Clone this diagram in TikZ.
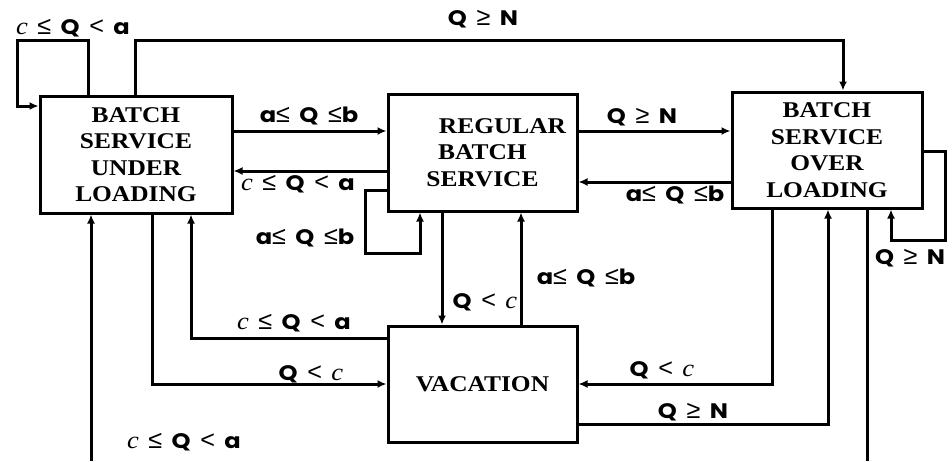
\documentclass[tikz,border=0pt]{standalone}
\usepackage{fontspec}
\usetikzlibrary{arrows.meta}
\newfontfamily\boxfont{Liberation Serif}[FakeStretch=1.13]
\newfontfamily\labfont{Poppins}[FakeStretch=1.15]
\newfontfamily\symfont{Liberation Sans}[Scale=1.2]
\newfontfamily\itcfont{Liberation Serif}[Scale=1.15,FakeStretch=1.1]
\newcommand\myc{{\itcfont\itshape\mdseries c}}
\newcommand\myle{{\symfont\mdseries ≤}}
\newcommand\myge{{\symfont\mdseries ≥}}
\newcommand\mylt{{\symfont\mdseries <}}
\newcommand\gp{\hspace{9.5pt}}
\newcommand\CQA{\myc\gp\myle\gp Q\gp\mylt\gp a}
\newcommand\AQB{a\myle\gp Q\gp\myle b}
\newcommand\QGN{Q\gp\myge\gp N}
\newcommand\QLC{Q\gp\mylt\gp\myc}
\tikzset{
  statebox/.style={draw,line width=3pt,rectangle,inner sep=0pt,align=center,
    font=\boxfont\bfseries\fontsize{22.5}{26.5}\selectfont},
  arr/.style={line width=3pt,-{Latex[length=9pt,width=8pt]}},
  plain/.style={line width=3pt},
  lab/.style={inner sep=0pt,font=\labfont\bfseries\fontsize{21}{22}\selectfont}
}
\begin{document}
\begin{tikzpicture}[x=1pt,y=-1pt]
\useasboundingbox (0,0) rectangle (952,461);
% states
\node[statebox,minimum width=192pt,minimum height=117pt] (bsul) at (136,154.5)
  {BATCH\\SERVICE\\UNDER\\LOADING};
\node[statebox,minimum width=189pt,minimum height=117pt] (rbs) at (482.5,152.5)
  {\hspace*{40pt}REGULAR\\BATCH\\SERVICE};
\node[statebox,minimum width=190pt,minimum height=116pt] (bsol) at (827,150)
  {BATCH\\SERVICE\\OVER\\LOADING};
\node[statebox,minimum width=189pt,minimum height=116pt] (vac) at (482.5,384)
  {VACATION};
% bend points
\coordinate (p1) at (88,40);
\coordinate (p2) at (17,40);
\coordinate (p3) at (17,106);
\coordinate (c1) at (135,40);
\coordinate (c2) at (843,40);
\coordinate (h1) at (0,131);
\coordinate (h2) at (0,171);
\coordinate (h3) at (0,131);
\coordinate (h4) at (0,182);
\coordinate (r1) at (365,190);
\coordinate (r2) at (365,253);
\coordinate (r3) at (420,253);
\coordinate (s1) at (945,151);
\coordinate (s2) at (945,240);
\coordinate (s3) at (891,240);
\coordinate (v1) at (442,0);
\coordinate (v2) at (521,0);
\coordinate (t1) at (191,338);
\coordinate (t2) at (152,384);
\coordinate (u1) at (772,384);
\coordinate (u2) at (828,424);
\coordinate (w1) at (867,461);
\coordinate (w2) at (91,461);
% connectors
\draw[arr] (bsul.north -| p1) -- (p1) -- (p2) |- (bsul.west |- p3);
\draw[arr] (bsul.north -| c1) -- (c1) -- (c2) -- (bsol.north -| c2);
\draw[arr] (bsul.east |- h1) -- (rbs.west |- h1);
\draw[arr] (rbs.west |- h2) -- (bsul.east |- h2);
\draw[arr] (rbs.west |- r1) -- (r1) -- (r2) -- (r3) -- (rbs.south -| r3);
\draw[arr] (rbs.east |- h3) -- (bsol.west |- h3);
\draw[arr] (bsol.west |- h4) -- (rbs.east |- h4);
\draw[arr] (bsol.east |- s1) -- (s1) -- (s2) -- (s3) -- (bsol.south -| s3);
\draw[arr] (rbs.south -| v1) -- (vac.north -| v1);
\draw[arr] (vac.north -| v2) -- (rbs.south -| v2);
\draw[arr] (vac.west |- t1) -- (t1) -- (bsul.south -| t1);
\draw[arr] (bsul.south -| t2) -- (t2) -- (vac.west |- t2);
\draw[arr] (bsol.south -| u1) -- (u1) -- (vac.east |- u1);
\draw[arr] (vac.east |- u2) -- (u2) -- (bsol.south -| u2);
\draw[plain] (bsol.south -| w1) -- (w1);
\draw[arr] (w2) -- (bsul.south -| w2);
% labels
\node[lab] (l1) at (73,28) {\CQA};
\node[lab] (l2) at (483,19) {\QGN};
\node[lab] (l3) at (309,116) {\AQB};
\node[lab] (l4) at (298,184) {\CQA};
\node[lab] (l5) at (305,238) {\AQB};
\node[lab] (l6) at (642,117) {\QGN};
\node[lab] (l7) at (675,195) {\AQB};
\node[lab] (l8) at (910,258) {\QGN};
\node[lab] (l9) at (485,302) {\QLC};
\node[lab] (l10) at (586,278) {\AQB};
\node[lab] (l11) at (294,323) {\CQA};
\node[lab] (l12) at (311,374) {\QLC};
\node[lab] (l13) at (662,370) {\QLC};
\node[lab] (l14) at (693,412) {\QGN};
\node[lab] (l15) at (184,442) {\CQA};
\end{tikzpicture}
\end{document}
